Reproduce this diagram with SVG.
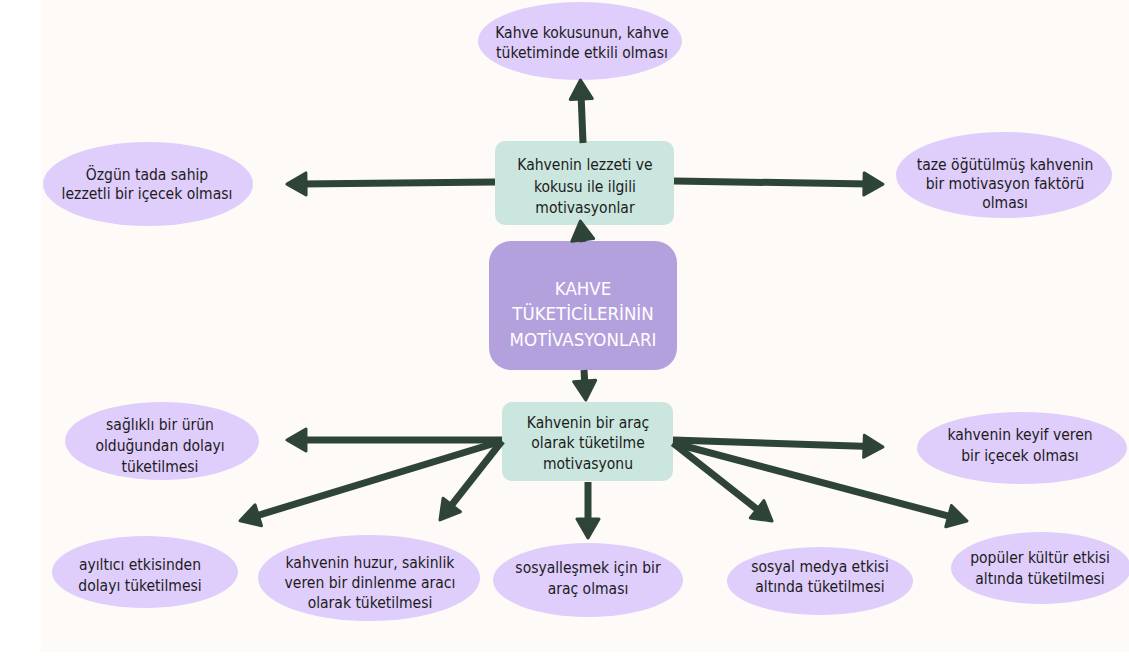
<svg xmlns="http://www.w3.org/2000/svg" width="1129" height="656" viewBox="0 0 1129 656">
<defs>
<style>
.bg{fill:#fdfaf7}
.oval{fill:#dfcdfb}
.box{fill:#cae6de}
.core{fill:#b3a1dd}
.t{font-family:"DejaVu Sans Condensed","DejaVu Sans","Liberation Sans",sans-serif;font-size:15.5px;fill:#1c1c1c;text-anchor:middle}
.w{font-family:"DejaVu Sans Condensed","DejaVu Sans","Liberation Sans",sans-serif;font-size:18.5px;fill:#ffffff;text-anchor:middle}
.c{stroke:#2e4437;stroke-width:7;fill:none;marker-end:url(#ah)}
</style>
<marker id="ah" markerUnits="userSpaceOnUse" viewBox="0 0 26 26" markerWidth="26" markerHeight="26" refX="9" refY="13" orient="auto">
<path d="M3,2 L22,13 L3,24 Z" fill="#2e4437" stroke="#2e4437" stroke-width="3" stroke-linejoin="round"/>
</marker>
</defs>
<rect x="0" y="0" width="1129" height="656" fill="#ffffff"/>
<rect class="bg" x="41" y="0" width="1088" height="652"/>

<g id="center">
<rect class="core" x="489" y="241" width="188" height="129" rx="22"/>
<text class="w" x="583" y="295">KAHVE</text>
<text class="w" x="583" y="320">TÜKETİCİLERİNİN</text>
<text class="w" x="583" y="346">MOTİVASYONLARI</text>
</g>

<g id="taste">
<rect class="box" x="495" y="141" width="179" height="84" rx="10"/>
<text class="t" x="585" y="170">Kahvenin lezzeti ve</text>
<text class="t" x="585" y="192">kokusu ile ilgili</text>
<text class="t" x="585" y="213">motivasyonlar</text>
</g>

<g id="tool">
<rect class="box" x="502" y="402" width="171" height="79" rx="10"/>
<text class="t" x="588" y="428">Kahvenin bir araç</text>
<text class="t" x="588" y="448">olarak tüketilme</text>
<text class="t" x="588" y="469">motivasyonu</text>
</g>

<g id="smell">
<ellipse class="oval" cx="580" cy="41" rx="102" ry="39"/>
<text class="t" x="582" y="38">Kahve kokusunun, kahve</text>
<text class="t" x="582" y="58">tüketiminde etkili olması</text>
</g>

<g id="original">
<ellipse class="oval" cx="148" cy="184" rx="105" ry="42"/>
<text class="t" x="147" y="180">Özgün tada sahip</text>
<text class="t" x="147" y="199">lezzetli bir içecek olması</text>
</g>

<g id="fresh">
<ellipse class="oval" cx="1004" cy="175" rx="108" ry="43"/>
<text class="t" x="1005" y="170">taze öğütülmüş kahvenin</text>
<text class="t" x="1005" y="189">bir motivasyon faktörü</text>
<text class="t" x="1005" y="208">olması</text>
</g>

<g id="healthy">
<ellipse class="oval" cx="162" cy="441" rx="97" ry="39"/>
<text class="t" x="160" y="430">sağlıklı bir ürün</text>
<text class="t" x="160" y="451">olduğundan dolayı</text>
<text class="t" x="160" y="472">tüketilmesi</text>
</g>

<g id="awake">
<ellipse class="oval" cx="145" cy="572" rx="93" ry="36"/>
<text class="t" x="140" y="570">ayıltıcı etkisinden</text>
<text class="t" x="140" y="591">dolayı tüketilmesi</text>
</g>

<g id="calm">
<ellipse class="oval" cx="369" cy="578" rx="111" ry="43"/>
<text class="t" x="370" y="568">kahvenin huzur, sakinlik</text>
<text class="t" x="370" y="588">veren bir dinlenme aracı</text>
<text class="t" x="370" y="608">olarak tüketilmesi</text>
</g>

<g id="social">
<ellipse class="oval" cx="588" cy="580" rx="95" ry="37"/>
<text class="t" x="588" y="573">sosyalleşmek için bir</text>
<text class="t" x="588" y="594">araç olması</text>
</g>

<g id="media">
<ellipse class="oval" cx="820" cy="581" rx="93" ry="34"/>
<text class="t" x="820" y="572">sosyal medya etkisi</text>
<text class="t" x="820" y="592">altında tüketilmesi</text>
</g>

<g id="culture">
<ellipse class="oval" cx="1041" cy="568" rx="90" ry="36"/>
<text class="t" x="1040" y="563">popüler kültür etkisi</text>
<text class="t" x="1040" y="584">altında tüketilmesi</text>
</g>

<g id="joy">
<ellipse class="oval" cx="1022" cy="448" rx="105" ry="36"/>
<text class="t" x="1020" y="440">kahvenin keyif veren</text>
<text class="t" x="1020" y="461">bir içecek olması</text>
</g>

<g id="connectors">
<line class="c" x1="583" y1="143" x2="581" y2="93"/>
<line class="c" x1="495" y1="182" x2="300" y2="184"/>
<line class="c" x1="674" y1="181" x2="870" y2="184"/>
<line class="c" x1="583" y1="242" x2="582" y2="234"/>
<line class="c" x1="584" y1="370" x2="585" y2="387"/>
<line class="c" x1="588" y1="482" x2="588" y2="525"/>
<line class="c" x1="502" y1="440" x2="300" y2="440"/>
<line class="c" x1="502" y1="441" x2="252.5" y2="517"/>
<line class="c" x1="502" y1="441" x2="448" y2="509.7"/>
<line class="c" x1="673" y1="440" x2="870" y2="446.5"/>
<line class="c" x1="673" y1="443" x2="761.8" y2="513"/>
<line class="c" x1="673" y1="443" x2="954.4" y2="517.7"/>
</g>
</svg>
